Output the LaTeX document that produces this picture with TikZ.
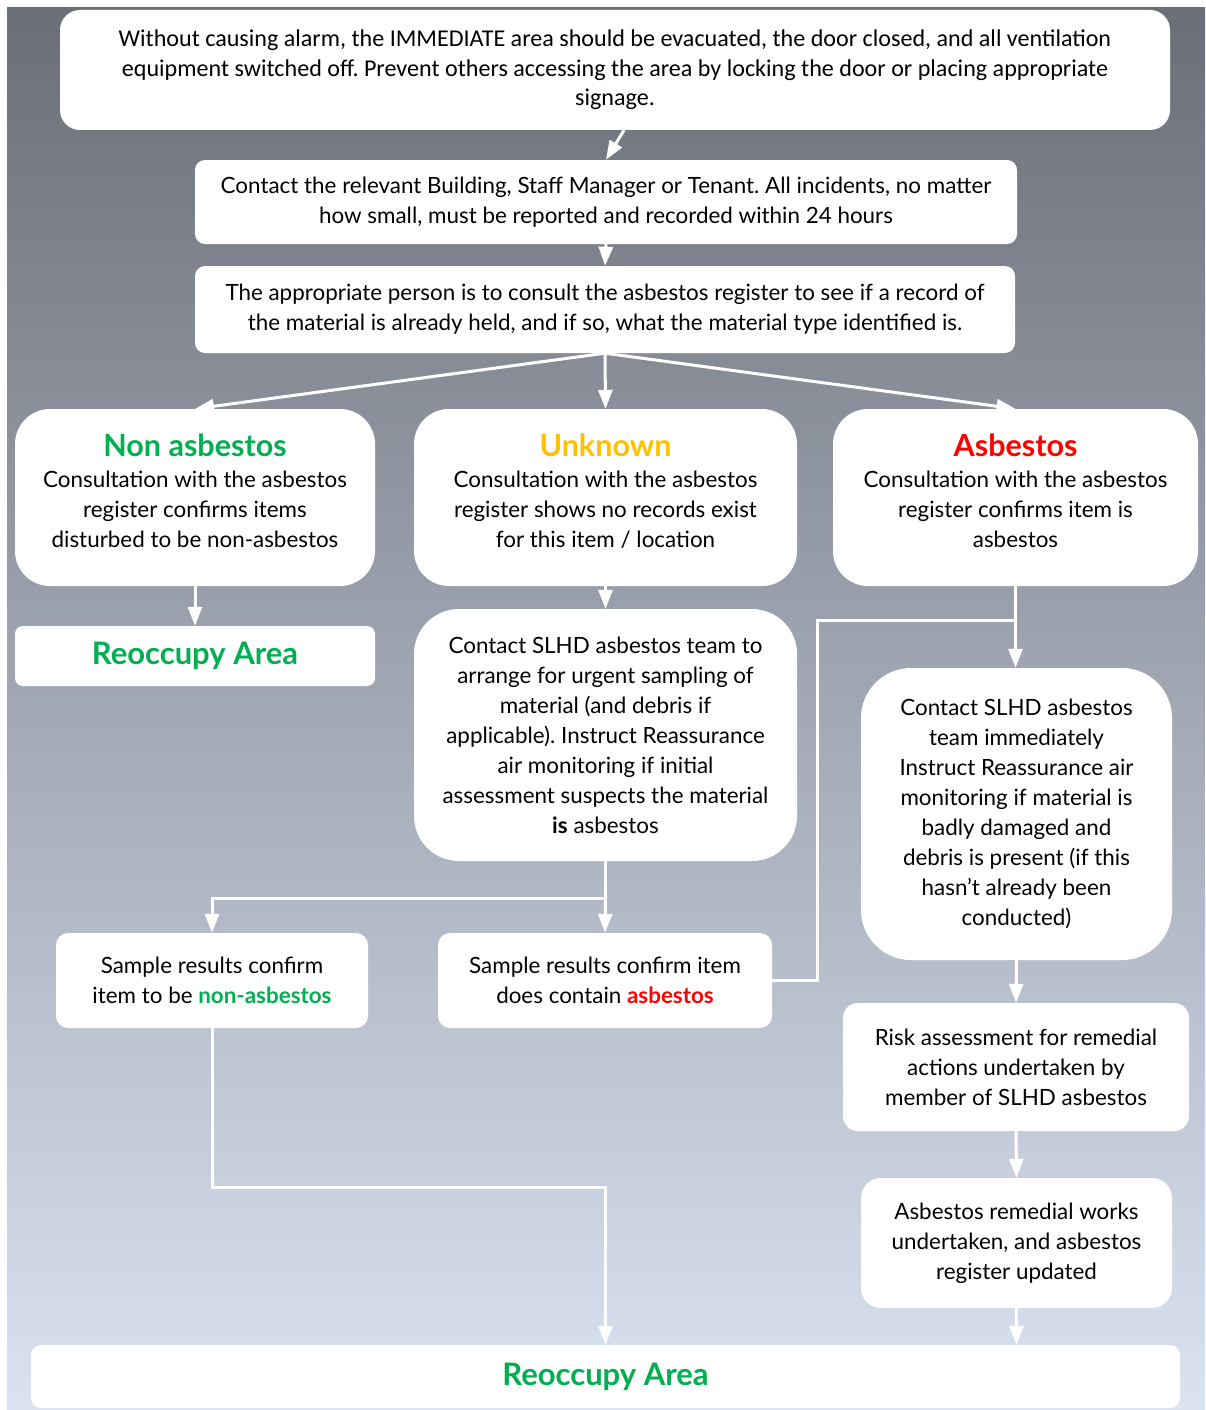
\documentclass[tikz,border=0pt]{standalone}
\usepackage{fontspec}
\setmainfont{Lato}
\newfontfamily\calibfont{Carlito}
\usetikzlibrary{positioning, arrows.meta, calc}
\definecolor{grn}{HTML}{00B050}
\definecolor{unk}{HTML}{FFC000}
\definecolor{asbred}{HTML}{FF0000}
\definecolor{bgtop}{RGB}{106,110,119}
\definecolor{bgbot}{RGB}{218,227,242}
\newcommand{\boxtitle}[2]{{\fontsize{30.5}{30}\selectfont\bfseries\color{#1}#2}\\[1pt]}
\frenchspacing

\begin{document}
\begin{tikzpicture}[x=1pt, y=-1pt,
	box/.style={fill=white, rounded corners=#1, align=center, inner sep=0pt,
		font=\fontsize{22.4}{30}\selectfont},
	box/.default=12pt,
	arr/.style={draw=white, line width=3pt, -{Triangle[width=14pt,length=19pt]}},
	wire/.style={draw=white, line width=3pt}]
	\useasboundingbox (0,0) rectangle (1205,1410);
	\fill[white] (0,0) rectangle (1205,1410);
	\shade[top color=bgtop, bottom color=bgbot] (7,8) rectangle (1205,1410);

	\node [box=20pt, minimum width=1110pt, minimum height=120pt,
		font=\calibfont\fontsize{24.1}{29.5}\selectfont] (top) at (615,70)
		{Without causing alarm, the IMMEDIATE area should be evacuated, the door closed, and all ventilation\\
		equipment switched off. Prevent others accessing the area by locking the door or placing appropriate\\
		signage.};
	\node [box=10pt, minimum width=822pt, minimum height=84pt] (contact) at (606,202)
		{Contact the relevant Building, Staff Manager or Tenant. All incidents, no matter\\
		how small, must be reported and recorded within 24 hours};
	\node [box=10pt, minimum width=820pt, minimum height=87pt] (consult) at (605,309.5)
		{The appropriate person is to consult the asbestos register to see if a record of\\
		the material is already held, and if so, what the material type identified is.};

	\node [box=35pt, minimum width=360pt, minimum height=177pt] (nonasb) at (195,497.5)
		{\boxtitle{grn}{Non asbestos}Consultation with the asbestos\\ register confirms items\\ disturbed to be non-asbestos\\[-17pt]\mbox{}};
	\node [box=35pt, minimum width=383pt, minimum height=177pt] (unknown) at (605.5,497.5)
		{\boxtitle{unk}{Unknown}Consultation with the asbestos\\ register shows no records exist\\ for this item / location\\[-17pt]\mbox{}};
	\node [box=35pt, minimum width=365pt, minimum height=177pt] (asb) at (1015.5,497.5)
		{\boxtitle{asbred}{Asbestos}Consultation with the asbestos\\ register confirms item is\\ asbestos\\[-17pt]\mbox{}};

	\node [box=8pt, minimum width=360pt, minimum height=60pt,
		font=\fontsize{31}{30}\selectfont\bfseries\color{grn}] (reoccA) at (195,656) {Reoccupy Area};

	\node [box=45pt, minimum width=383pt, minimum height=252pt] (slhdU) at (605.5,735)
		{Contact SLHD asbestos team to\\ arrange for urgent sampling of\\ material (and debris if\\
		applicable). Instruct Reassurance\\ air monitoring if initial\\ assessment suspects the material\\
		\textbf{is} asbestos};
	\node [box=50pt, minimum width=311pt, minimum height=292pt] (slhdA) at (1016.5,814)
		{Contact SLHD asbestos\\ team immediately\\ Instruct Reassurance air\\ monitoring if material is\\
		badly damaged and\\ debris is present (if this\\ hasn’t already been\\ conducted)};

	\node [box=12pt, minimum width=312pt, minimum height=95pt] (sampNon) at (212,980.5)
		{Sample results confirm\\ item to be \textbf{\color{grn}non-asbestos}};
	\node [box=12pt, minimum width=334pt, minimum height=95pt] (sampAsb) at (605,980.5)
		{Sample results confirm item\\ does contain \textbf{\color{asbred}asbestos}};

	\node [box=15pt, minimum width=346pt, minimum height=128pt] (risk) at (1016,1067)
		{Risk assessment for remedial\\ actions undertaken by\\ member of SLHD asbestos};
	\node [box=20pt, minimum width=311pt, minimum height=130pt] (remedial) at (1016.5,1243)
		{Asbestos remedial works\\ undertaken, and asbestos\\ register updated};

	\node [box=10pt, minimum width=1149pt, minimum height=63pt,
		font=\fontsize{31}{30}\selectfont\bfseries\color{grn}] (reoccB) at (605.5,1376.5) {Reoccupy Area};

	\coordinate (jU) at ($(slhdU.south)+(0,37)$);
	\coordinate (jA) at ($(asb.south)+(0,34)$);
	\coordinate (jN) at ($(sampNon.south)+(0,159)$);

	\draw[arr] ([xshift=9pt]top.south) -- (contact.north);
	\foreach \a/\b in {contact/consult, consult/nonasb, consult/unknown, consult/asb,
		nonasb/reoccA, unknown/slhdU, slhdA/risk, risk/remedial}
	\draw[arr] (\a.south) -- (\b.north);
	\draw[arr] (asb.south) -- (asb.south |- slhdA.north);
	\draw[arr] (remedial.south) -- (remedial.south |- reoccB.north);

	\draw[wire] (slhdU.south) -- (jU);
	\draw[arr] (jU) -| (sampNon.north);
	\draw[arr] (jU) -- (sampAsb.north);
	\draw[wire] (sampAsb.east) -- ++(45,0) |- (jA);
	\draw[arr] (sampNon.south) -- (jN) -| (reoccB.north);
\end{tikzpicture}
\end{document}
